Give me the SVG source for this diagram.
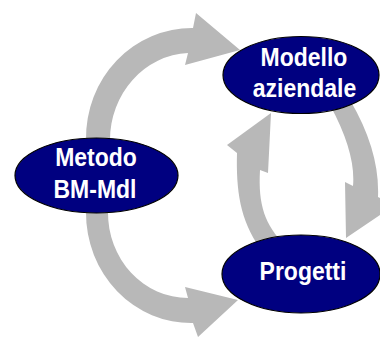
<svg xmlns="http://www.w3.org/2000/svg" width="380" height="338" viewBox="0 0 380 338">
<style>
.arrow{fill:#b8b8b8;stroke:none}
.node{fill:#000080;stroke:#000;stroke-width:1.2}
.lbl{fill:#fff;font-family:"Liberation Sans",Arial,sans-serif;font-weight:bold;font-size:23px;text-anchor:middle}
</style>
<rect width="380" height="338" fill="#fff"/>
<g id="connectors">
<path class="arrow" d="M 86,140 A 106 110 0 0 1 193,28 L 196,13 L 240,50 L 185,65 L 188,53 A 82 87 0 0 0 110,140 Z"/>
<path class="arrow" d="M 86,212 A 105 110 0 0 0 193,323 L 198,337 L 238,300 L 185,287 L 188,298 A 80 85 0 0 1 108,212 Z"/>
<path class="arrow" d="M 350,100 Q 380,151 378,197 L 395,205 L 346,238 L 345,182 L 353,186 Q 356,153 330,105 Z"/>
<path class="arrow" d="M 285,245 C 265,225 258,205 260,170 L 268,173 L 271,113 L 227,145 L 237,153 C 236,190 240,220 260,248 Z"/>
</g>
<g id="metodo">
<ellipse class="node" cx="96.5" cy="175.5" rx="81.5" ry="37.5"/>
<text class="lbl" transform="translate(96,166) scale(1,1.15)">Metodo</text>
<text class="lbl" transform="translate(95,198) scale(1,1.15)">BM-Mdl</text>
</g>
<g id="modello">
<ellipse class="node" cx="301" cy="75" rx="78" ry="38.5"/>
<text class="lbl" transform="translate(304,66) scale(1,1.15)">Modello</text>
<text class="lbl" transform="translate(304.5,97) scale(1,1.15)">aziendale</text>
</g>
<g id="progetti">
<ellipse class="node" cx="301" cy="274" rx="79" ry="39"/>
<text class="lbl" transform="translate(303,280) scale(1,1.15)">Progetti</text>
</g>
</svg>
